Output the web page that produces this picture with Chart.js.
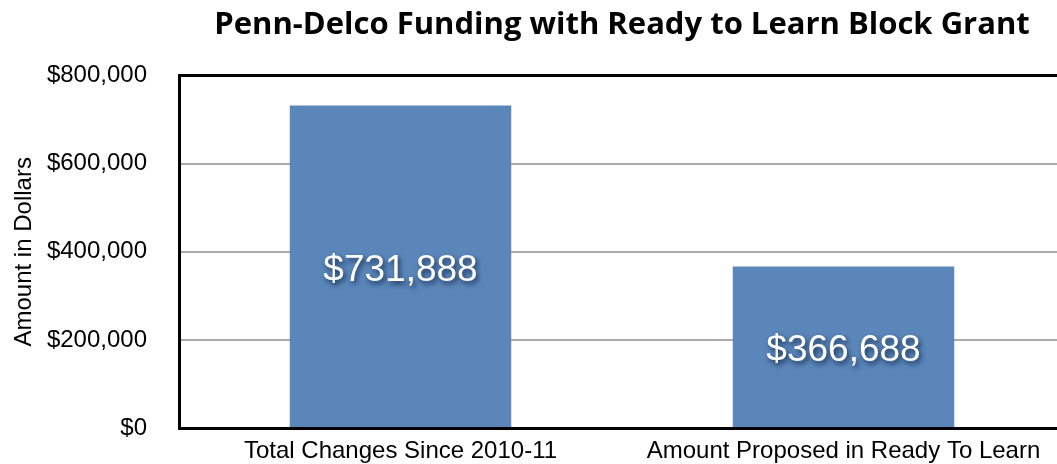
<!DOCTYPE html>
<html>
<head>
<meta charset="utf-8">
<script src="https://cdn.jsdelivr.net/npm/chart.js@4.4.1/dist/chart.umd.min.js"></script>
<style>
  html, body { margin: 0; padding: 0; background: #fff; }
  #wrap { width: 1057px; height: 464px; overflow: hidden; }
</style>
</head>
<body>
<div id="wrap"><canvas id="chart" width="1080" height="464"></canvas></div>
<script>
const categories = ["Total Changes Since 2010-11", "Amount Proposed in Ready To Learn"];
const amounts = [731888, 366688];
const yTicks = [0, 200000, 400000, 600000, 800000];

const money = v => "$" + v.toLocaleString("en-US");

// white value labels centred in each bar
const valueLabels = {
    id: "valueLabels",
    afterDatasetsDraw(chart) {
        const ctx = chart.ctx;
        const meta = chart.getDatasetMeta(0);
        ctx.save();
        ctx.font = "37px 'Liberation Sans', Arial, sans-serif";
        ctx.fillStyle = "#fff";
        ctx.textAlign = "center";
        ctx.textBaseline = "middle";
        ctx.shadowColor = "rgba(15, 35, 70, 0.85)";
        ctx.shadowBlur = 5;
        ctx.shadowOffsetX = 2;
        ctx.shadowOffsetY = 3;
        meta.data.forEach((bar, i) => {
            ctx.fillText(money(amounts[i]), bar.x, (bar.y + bar.base) / 2 + 4);
        });
        ctx.restore();
    }
};

new Chart(document.getElementById("chart"), {
    type: "bar",
    data: {
        labels: categories,
        datasets: [{
            data: amounts,
            backgroundColor: "#5a86b9",
            barPercentage: 0.5,
            categoryPercentage: 1
        }]
    },
    options: {
        responsive: false,
        animation: false,
        layout: { padding: { left: 0, right: 15, top: 0, bottom: 0 } },
        plugins: {
            legend: { display: false },
            tooltip: { enabled: false },
            title: {
                display: true,
                text: "Penn-Delco Funding with Ready to Learn Block Grant",
                fullSize: false,
                color: "#000",
                font: { family: "'Open Sans', sans-serif", size: 31, weight: "bold" },
                padding: { top: 7, bottom: 31.4 }
            }
        },
        scales: {
            x: {
                z: 1,
                grid: { display: false, drawTicks: false },
                border: { color: "#000", width: 3 },
                ticks: {
                    color: "#000",
                    padding: 9,
                    font: { family: "'Liberation Sans', Arial, sans-serif", size: 24 }
                },
                afterFit(scale) { scale.height = 36; }
            },
            y: {
                min: 0,
                max: 800000,
                afterBuildTicks(scale) { scale.ticks = yTicks.map(v => ({ value: v })); },
                grid: {
                    drawTicks: false,
                    color: c => c.tick && c.tick.value === 800000 ? "#000" : "#aaaaaa",
                    lineWidth: c => c.tick && c.tick.value === 800000 ? 3 : 2
                },
                border: { color: "#000", width: 3 },
                ticks: {
                    color: "#000",
                    padding: 32,
                    font: { family: "'Liberation Sans', Arial, sans-serif", size: 24 },
                    callback: v => money(v)
                },
                title: {
                    display: true,
                    text: "Amount in Dollars",
                    color: "#000",
                    padding: { top: 10, bottom: 0 },
                    font: { family: "'Liberation Sans', Arial, sans-serif", size: 24 }
                },
                afterFit(scale) {
                    scale.width = 179;
                    // tick padding would otherwise push the plot area in
                    scale.paddingTop = 0;
                    scale.paddingBottom = 0;
                }
            }
        }
    },
    plugins: [valueLabels]
});
</script>
</body>
</html>
